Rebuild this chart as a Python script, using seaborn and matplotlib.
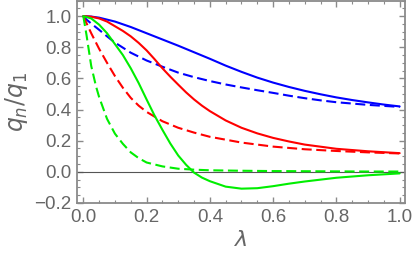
import numpy as np
import pandas as pd
import matplotlib
matplotlib.use("Agg")
import matplotlib.pyplot as plt
import seaborn as sns
from matplotlib.ticker import MultipleLocator

sns.set_theme(style="white")
plt.rcParams['font.family'] = ['Liberation Sans', 'DejaVu Sans']
plt.rcParams['mathtext.fontset'] = 'dejavusans'

# --- data ---
x_bs = [0, 0.025, 0.05, 0.1, 0.15, 0.2, 0.25, 0.3, 0.35, 0.4, 0.45, 0.5, 0.55, 0.6, 0.65, 0.7, 0.75, 0.8, 0.85, 0.9, 0.95, 1.0]
y_bs = [1.0, 0.997, 0.99, 0.965, 0.93, 0.89, 0.85, 0.81, 0.768, 0.726, 0.682, 0.642, 0.605, 0.573, 0.545, 0.52, 0.498, 0.478, 0.461, 0.446, 0.432, 0.42]

x_bd = [0, 0.01, 0.025, 0.05, 0.075, 0.1, 0.15, 0.2, 0.25, 0.3, 0.35, 0.4, 0.45, 0.5, 0.55, 0.6, 0.65, 0.7, 0.75, 0.8, 0.9, 1.0]
y_bd = [1.0, 0.978, 0.952, 0.912, 0.87, 0.83, 0.765, 0.715, 0.675, 0.637, 0.608, 0.583, 0.561, 0.542, 0.524, 0.507, 0.489, 0.473, 0.459, 0.447, 0.43, 0.417]

x_rs = [0, 0.025, 0.05, 0.075, 0.1, 0.125, 0.15, 0.175, 0.2, 0.225, 0.25, 0.275, 0.3, 0.325, 0.35, 0.375, 0.4, 0.45, 0.5, 0.55, 0.6, 0.65, 0.7, 0.8, 0.9, 1.0]
y_rs = [1.0, 0.996, 0.985, 0.965, 0.935, 0.905, 0.87, 0.828, 0.78, 0.724, 0.665, 0.611, 0.56, 0.51, 0.465, 0.425, 0.39, 0.33, 0.283, 0.247, 0.218, 0.195, 0.175, 0.148, 0.132, 0.12]

x_rd = [0, 0.01, 0.025, 0.05, 0.075, 0.1, 0.125, 0.15, 0.175, 0.2, 0.25, 0.3, 0.35, 0.4, 0.5, 0.6, 0.7, 0.8, 0.9, 1.0]
y_rd = [1.0, 0.955, 0.89, 0.79, 0.70, 0.615, 0.54, 0.475, 0.425, 0.385, 0.325, 0.283, 0.252, 0.225, 0.188, 0.162, 0.145, 0.134, 0.125, 0.118]

x_gs = [0, 0.025, 0.05, 0.075, 0.1, 0.125, 0.15, 0.175, 0.2, 0.225, 0.25, 0.275, 0.3, 0.325, 0.35, 0.375, 0.4, 0.45, 0.5, 0.55, 0.6, 0.65, 0.7, 0.8, 0.9, 1.0]
y_gs = [1.0, 0.985, 0.945, 0.89, 0.82, 0.75, 0.665, 0.57, 0.465, 0.362, 0.27, 0.182, 0.105, 0.045, -0.005, -0.037, -0.06, -0.095, -0.108, -0.105, -0.092, -0.076, -0.062, -0.038, -0.022, -0.01]

x_gd = [0, 0.005, 0.01, 0.025, 0.04, 0.05, 0.075, 0.1, 0.125, 0.15, 0.175, 0.2, 0.25, 0.3, 0.35, 0.4, 0.5, 0.6, 0.7, 0.8, 0.9, 1.0]
y_gd = [1.0, 0.94, 0.88, 0.68, 0.55, 0.48, 0.34, 0.245, 0.18, 0.125, 0.088, 0.06, 0.035, 0.02, 0.014, 0.01, 0.007, 0.005, 0.004, 0.003, 0.002, 0.002]

x_ticks = [0.0, 0.2, 0.4, 0.6, 0.8, 1.0]
y_ticks = [-0.2, 0.0, 0.2, 0.4, 0.6, 0.8, 1.0]

series = [
    (x_bs, y_bs, "#0000ff", False),
    (x_bd, y_bd, "#0000ff", True),
    (x_rs, y_rs, "#ff0000", False),
    (x_rd, y_rd, "#ff0000", True),
    (x_gs, y_gs, "#00ee00", False),
    (x_gd, y_gd, "#00ee00", True),
]

fig = plt.figure(figsize=(4.15, 2.65), dpi=100)
ax = fig.add_axes([0.1855, 0.234, 0.976 - 0.1855, 0.998 - 0.234])

ax.axhline(0, color="#555555", lw=0.8, zorder=1)

for xs, ys, c, dashed in series:
    df = pd.DataFrame({"x": xs, "y": ys})
    sns.lineplot(data=df, x="x", y="y", ax=ax, color=c, lw=1.5, zorder=3)
    line = ax.lines[-1]
    line.set_solid_joinstyle("round")
    if dashed:
        line.set_dashes([4.8, 2.2])

ax.set_xlim(-0.02, 1.017)
ax.set_ylim(-0.2, 1.1)
ax.set_xticks(x_ticks)
ax.set_yticks(y_ticks)
ax.set_xticklabels([f"{t:.1f}" for t in x_ticks])
ax.set_yticklabels([f"{t:.1f}".replace("-", "\u2212") for t in y_ticks])
ax.xaxis.set_minor_locator(MultipleLocator(0.05))
ax.yaxis.set_minor_locator(MultipleLocator(0.05))

for s in ax.spines.values():
    s.set_color("#8a8a8a")
    s.set_linewidth(1.3)
ax.tick_params(which="both", direction="in", bottom=True, left=True, top=True, right=True,
               colors="#8a8a8a", labelcolor="#666666", labelsize=13.5)
ax.tick_params(which="major", length=4.5, width=1.0, pad=4)
ax.tick_params(which="minor", length=2.3, width=0.8)
ax.tick_params(axis="x", labeltop=False)
ax.tick_params(axis="y", labelright=False)

ax.set_xlabel(r"$\lambda$", fontsize=16, color="#666666", labelpad=3)
ax.set_ylabel(r"$q_n/q_1$", fontsize=17, color="#666666", labelpad=3)

fig.savefig("out.png", dpi=100)
